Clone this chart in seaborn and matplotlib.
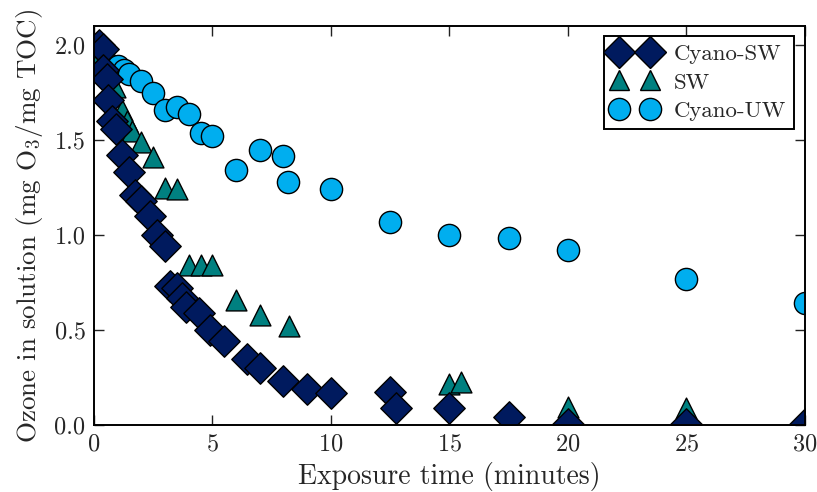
import matplotlib
matplotlib.use("Agg")
import matplotlib.pyplot as plt
import seaborn as sns
import pandas as pd
from matplotlib.lines import Line2D

# Data
cyano_sw_t = [0.2, 0.4, 0.4, 0.55, 0.6, 0.75, 0.95, 1.17, 1.5, 1.73, 2.0, 2.35, 2.65, 3.0,
              3.2, 3.5, 3.7, 3.9, 4.45, 4.9, 5.5, 6.45, 7.0, 8.0, 9.0, 10.0, 12.5, 12.75,
              15.0, 17.5, 20.0, 25.0, 30.0]
cyano_sw_y = [2.0, 1.98, 1.87, 1.82, 1.71, 1.6, 1.56, 1.42, 1.33, 1.21, 1.18, 1.1, 1.0, 0.94,
              0.73, 0.72, 0.67, 0.62, 0.59, 0.5, 0.44, 0.35, 0.3, 0.23, 0.19, 0.17, 0.175, 0.088,
              0.088, 0.044, 0.005, 0.005, 0.005]

sw_t = [0.25, 0.5, 0.9, 1.2, 1.4, 1.6, 2.0, 2.5, 3.0, 3.5, 4.0, 4.5, 5.0, 6.0, 7.0, 8.25,
        15.0, 15.5, 20.0, 25.0]
sw_y = [1.95, 1.88, 1.78, 1.66, 1.6, 1.55, 1.49, 1.41, 1.25, 1.24, 0.84, 0.84, 0.84, 0.66,
        0.58, 0.52, 0.215, 0.225, 0.093, 0.088]

cyano_uw_t = [0.2, 0.5, 1.0, 1.25, 1.5, 2.0, 2.5, 3.0, 3.5, 4.0, 4.5, 5.0, 6.0, 7.0, 8.0,
              8.2, 10.0, 12.5, 15.0, 17.5, 20.0, 25.0, 30.0]
cyano_uw_y = [1.92, 1.91, 1.89, 1.87, 1.85, 1.81, 1.75, 1.66, 1.675, 1.635, 1.535, 1.52,
              1.34, 1.45, 1.415, 1.28, 1.24, 1.07, 1.0, 0.985, 0.92, 0.77, 0.645]

series_names = ["Cyano-SW", "SW", "Cyano-UW"]

sns.set_style("ticks", {"xtick.direction": "in", "ytick.direction": "in",
                        "axes.edgecolor": "black"})
plt.rcParams["font.family"] = ["cmr10", "DejaVu Serif"]
plt.rcParams["mathtext.fontset"] = "cm"
plt.rcParams["axes.formatter.use_mathtext"] = True
plt.rcParams["axes.unicode_minus"] = False

fig = plt.figure(figsize=(8.17, 4.92), dpi=100)
ax = fig.add_axes([0.115, 0.136, 0.870, 0.811])

ms = 16
kw = dict(edgecolor="black", linewidth=1.0, ax=ax, legend=False, clip_on=True)

df_uw = pd.DataFrame({"t": cyano_uw_t, "y": cyano_uw_y})
df_sw = pd.DataFrame({"t": sw_t, "y": sw_y})
df_csw = pd.DataFrame({"t": cyano_sw_t, "y": cyano_sw_y})

sns.scatterplot(data=df_uw, x="t", y="y", marker="o", s=ms**2, color="#00AEEF", **kw)
sns.scatterplot(data=df_sw, x="t", y="y", marker="^", s=15**2, color="#008080", **kw)
sns.scatterplot(data=df_csw, x="t", y="y", marker="D", s=ms**2, color="#001A5E", **kw)

ax.set_xlim(0, 30)
ax.set_ylim(0, 2.1)
ax.set_xticks([0, 5, 10, 15, 20, 25, 30])
ax.set_yticks([0.0, 0.5, 1.0, 1.5, 2.0])
ax.set_yticklabels(["0.0", "0.5", "1.0", "1.5", "2.0"])
ax.tick_params(top=True, right=True, length=7, width=1, labelsize=17.5, color="#222222",
               pad=6)
for sp in ax.spines.values():
    sp.set_linewidth(1.4)
    sp.set_color("black")

ax.set_xlabel("Exposure time (minutes)", fontsize=20, labelpad=5)
ax.set_ylabel(r"Ozone in solution (mg O$_3$/mg TOC)", fontsize=19.5, labelpad=7)

handles = [
    Line2D([], [], linestyle="none", marker="D", markersize=ms, markerfacecolor="#001A5E",
           markeredgecolor="black", markeredgewidth=1.0),
    Line2D([], [], linestyle="none", marker="^", markersize=15, markerfacecolor="#008080",
           markeredgecolor="black", markeredgewidth=1.0),
    Line2D([], [], linestyle="none", marker="o", markersize=ms, markerfacecolor="#00AEEF",
           markeredgecolor="black", markeredgewidth=1.0),
]
leg = ax.legend(handles, series_names, loc="upper right", numpoints=2, fontsize=16.5,
                frameon=True, fancybox=False, framealpha=1, edgecolor="black",
                handlelength=1.95, handletextpad=0.75, labelspacing=0.35, borderpad=0.35,
                borderaxespad=0.45)
leg.get_frame().set_linewidth(1.4)

fig.savefig("out.png", dpi=100)
